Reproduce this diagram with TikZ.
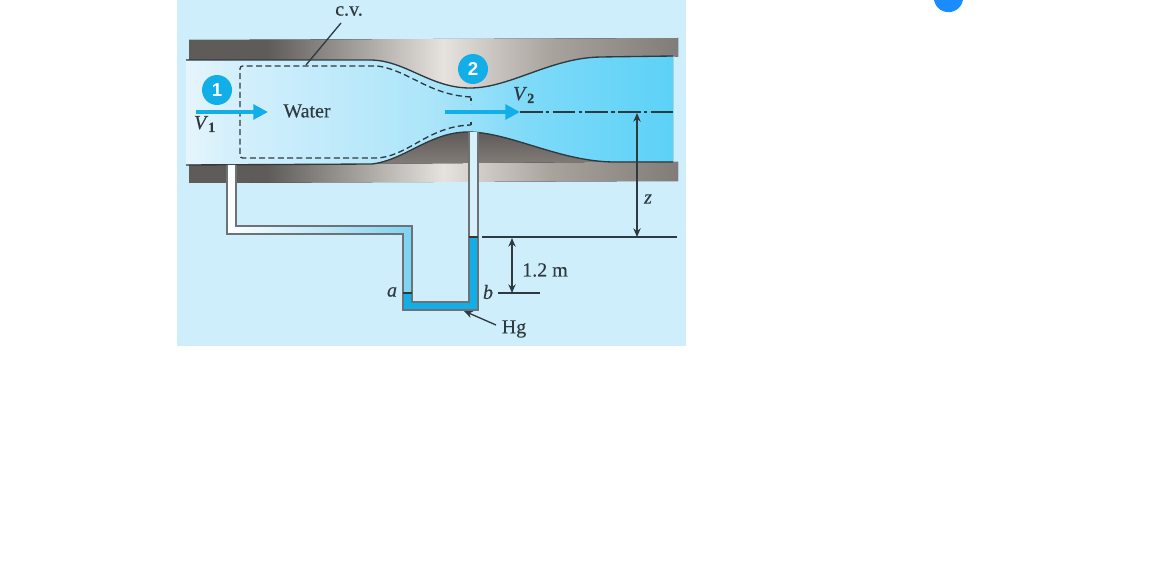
\documentclass[tikz,border=0pt]{standalone}
\usepackage{fontspec}
\setmainfont[FakeBold=0.25]{Liberation Serif}
\newfontfamily\numfont{Liberation Sans}
\usetikzlibrary{arrows.meta}
\definecolor{backblue}{HTML}{CFEEFC}
\definecolor{hgblue}{HTML}{12AEE8}
\definecolor{tubegray}{HTML}{6E7274}
\definecolor{inkdark}{HTML}{2F3A40}
\definecolor{dotblue}{HTML}{1A8CFF}
\definecolor{walldark}{HTML}{5F5B58}
\definecolor{wallmid}{HTML}{A9A39E}
\definecolor{walllight}{HTML}{E6E2DE}
\definecolor{wallend}{HTML}{827C78}
\definecolor{flowa}{HTML}{E6F5FC}
\definecolor{flowb}{HTML}{D6F0FB}
\definecolor{flowc}{HTML}{ACE5FA}
\definecolor{flowd}{HTML}{7FDAF8}
\definecolor{flowe}{HTML}{5CD2F7}
\pgfdeclarehorizontalshading{wallshade}{100bp}{color(0bp)=(walldark); color(25bp)=(walldark); color(33bp)=(walldark); color(51bp)=(walllight); color(62bp)=(wallmid); color(75bp)=(wallend); color(100bp)=(wallend)}
\pgfdeclarehorizontalshading{flowshade}{100bp}{color(0bp)=(flowa); color(25bp)=(flowa); color(29bp)=(flowb); color(50bp)=(flowc); color(60bp)=(flowd); color(75bp)=(flowe); color(100bp)=(flowe)}
\begin{document}
\begin{tikzpicture}[x=0.75pt,y=-0.75pt,
    every node/.style = {inner sep=0pt, text=inkdark, font=\fontsize{15}{17}\selectfont},
    wall/.style = {shading=wallshade, shading angle=0},
    flowline/.style = {draw=inkdark, line width=1pt},
    tubeline/.style = {draw=tubegray, line width=1.4pt},
    flowarrow/.style = {draw=hgblue, line width=3pt, -{Triangle[length=11pt,width=11pt]}},
    dimarrow/.style = {draw=inkdark, line width=1pt, {Stealth[length=6.5pt,width=5.5pt]}-{Stealth[length=6.5pt,width=5.5pt]}},
    thinline/.style = {draw=inkdark, line width=1pt},
    station/.style = {circle, fill=hgblue, minimum size=22.5pt, text=white, font=\numfont\bfseries\fontsize{14}{15}\selectfont}]
  \useasboundingbox (0,0) rectangle (1170,574);
  \clip (0,0) rectangle (1170,574);
  \fill[backblue] (177,0) rectangle (686,346);
  % water in the venturi
  \fill[shading=flowshade, shading angle=0] (186,60) -- (370,60) .. controls (405,60) and (430,88) .. (470,88)
    .. controls (510,88) and (550,58) .. (600,57) -- (673,56) -- (673,162) -- (615,162)
    .. controls (560,162) and (510,132) .. (468,132) .. controls (430,132) and (405,160) .. (372,164)
    -- (186,165) -- cycle;
  % walls
  \fill[wall] (189,40) -- (678,38) -- (678,57) -- (673,56) -- (600,57) .. controls (550,58) and (510,88) .. (470,88)
    .. controls (430,88) and (405,60) .. (370,60) -- (189,60) -- cycle;
  \fill[top color=walldark, bottom color=wallend] (372,164) .. controls (405,160) and (430,132) .. (468,132)
    .. controls (510,132) and (560,162) .. (615,162) -- cycle;
  \fill[wall] (189,165) -- (372,164) -- (615,162) -- (678,162) -- (678,181) -- (189,183) -- cycle;
  \draw[flowline] (186,60) -- (370,60) .. controls (405,60) and (430,88) .. (470,88)
    .. controls (510,88) and (550,58) .. (600,57) -- (673,56);
  \draw[flowline] (186,165) -- (372,164) .. controls (405,160) and (430,132) .. (468,132)
    .. controls (510,132) and (560,162) .. (615,162) -- (673,162);
  % manometer
  \fill[left color=white, right color=hgblue!55!white] (227,165) -- (227,234) -- (403,234) -- (403,293) -- (412,293) -- (412,226) -- (236,226) -- (236,165) -- cycle;
  \fill[backblue!85!white] (469,132) rectangle (478,237);
  \fill[hgblue] (403,293) -- (403,310) -- (478,310) -- (478,237) -- (469,237) -- (469,302) -- (412,302) -- (412,293) -- cycle;
  \draw[tubeline] (236,165) -- (236,226) -- (412,226) -- (412,302) -- (469,302) -- (469,132);
  \draw[tubeline] (227,165) -- (227,234) -- (403,234) -- (403,310) -- (478,310) -- (478,132);
  \draw[thinline] (403,293) -- (412,293);
  \draw[thinline] (469,237) -- (478,237);
  % control volume
  \draw[inkdark, line width=1pt, dash pattern=on 4.5pt off 2.5pt, rounded corners=2pt]
    (471,97) .. controls (430,95) and (410,72) .. (378,66) -- (240,66) -- (240,158) -- (378,158)
    .. controls (410,154) and (430,126) .. (471,125);
  \draw[inkdark, line width=1pt, dash pattern=on 2.5pt off 2pt] (471,98) -- (471,104);
  \draw[inkdark, line width=1pt, dash pattern=on 2.5pt off 2pt] (471,125) -- (471,120);
  \node (cv) at (349,11) {c.v.};
  \coordinate (cvfoot) at (341,23);
  \coordinate (cvtip) at (306,65);
  \draw[thinline] (cvfoot) -- (cvtip);
  % flow
  \coordinate (oneleft) at (196,112);
  \coordinate (oneright) at (268,112);
  \coordinate (twoleft) at (445,112);
  \coordinate (tworight) at (520,112);
  \coordinate (axisend) at (673,112);
  \draw[inkdark, line width=1pt, dash pattern=on 17pt off 2.5pt on 2.5pt off 2.5pt] (tworight) -- (axisend);
  \draw[flowarrow] (oneleft) -- (oneright);
  \draw[flowarrow] (twoleft) -- (tworight);
  \node[station] (one) at (217,90) {1};
  \node[station] (two) at (473,69) {2};
  \node (vone) at (205,124) {\textit{V}\textsubscript{\textbf{1}}};
  \node (vtwo) at (524,95) {\textit{V}\textsubscript{\textbf{2}}};
  \node (water) at (307,111) {Water};
  % levels
  \coordinate (zaxis) at (637,113);
  \coordinate (zlevel) at (637,237);
  \coordinate (levelleft) at (482,237);
  \coordinate (levelright) at (677,237);
  \coordinate (hgtop) at (512,238);
  \coordinate (hgfoot) at (512,293);
  \coordinate (bleft) at (498,293);
  \coordinate (bright) at (540,293);
  \draw[thinline] (levelleft) -- (levelright);
  \draw[thinline] (bleft) -- (bright);
  \draw[dimarrow] (zaxis) -- (zlevel);
  \draw[dimarrow] (hgtop) -- (hgfoot);
  \node (zlabel) at (648,199) {\textit{z}};
  \node (height) at (545,270) {1.2 m};
  \node (alabel) at (392,292) {\textit{a}};
  \node (blabel) at (488,292) {\textit{b}};
  \node (hg) at (514,329) {Hg};
  \coordinate (hgtail) at (496,325);
  \coordinate (hgtip) at (464,311);
  \draw[thinline, -{Stealth[length=6.5pt,width=5.5pt]}] (hgtail) -- (hgtip);
  \node[circle, fill=dotblue, minimum size=22pt] (dot) at (948.5,-2.5) {};
\end{tikzpicture}
\end{document}
